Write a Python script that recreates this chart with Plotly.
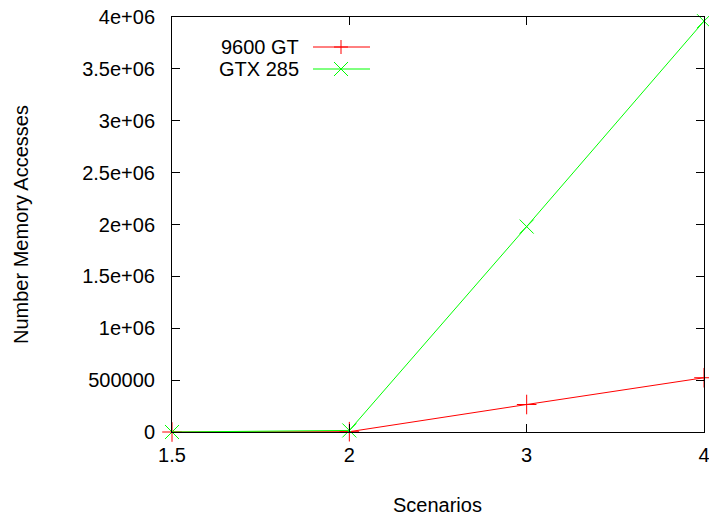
import plotly.graph_objects as go

categories = ["1.5", "2", "3", "4"]
gt9600 = [0, 3000, 265000, 523000]
gtx285 = [0, 15000, 1980000, 3960000]
series_names = ["9600 GT", "GTX 285"]
ytick_vals = [0, 500000, 1000000, 1500000, 2000000, 2500000, 3000000, 3500000, 4000000]
ytick_text = ["0", "500000", "1e+06", "1.5e+06", "2e+06", "2.5e+06", "3e+06", "3.5e+06", "4e+06"]
x_title = "Scenarios"
y_title = "Number Memory Accesses"

RED = "#ff0000"
GREEN = "#00ff00"
FONT = "Liberation Sans, Arial, Helvetica, sans-serif"
FS = 20
FT = 20

fig = go.Figure()
fig.add_trace(go.Scatter(x=categories, y=gt9600, mode="lines+markers", name=series_names[0],
                         line=dict(color=RED, width=1),
                         marker=dict(symbol="cross-thin", size=14, line=dict(color=RED, width=1)),
                         cliponaxis=False, showlegend=False))
fig.add_trace(go.Scatter(x=categories, y=gtx285, mode="lines+markers", name=series_names[1],
                         line=dict(color=GREEN, width=1),
                         marker=dict(symbol="x-thin", size=14, line=dict(color=GREEN, width=1)),
                         cliponaxis=False, showlegend=False))

L, R, T, B = 172, 5, 17, 84
W, H = 709, 516
pw, ph = W - L - R, H - T - B

def px(x):
    return (x - L) / pw

def py(y):
    return (H - B - y) / ph

shapes = []
annotations = []
legend_rows = [(series_names[0], RED, "plus", 47), (series_names[1], GREEN, "x", 69)]
for name, col, sym, yy in legend_rows:
    annotations.append(dict(x=px(301), y=py(yy), xref="paper", yref="paper", text=name,
                            showarrow=False, xanchor="right", yanchor="middle",
                            font=dict(family=FONT, size=FS, color="black")))
    shapes.append(dict(type="line", xref="paper", yref="paper", x0=px(313), x1=px(370),
                       y0=py(yy), y1=py(yy), line=dict(color=col, width=1)))
    cx, cy, s = 341, yy, 7
    if sym == "plus":
        path = f"M{px(cx-s)},{py(cy)} L{px(cx+s)},{py(cy)} M{px(cx)},{py(cy-s)} L{px(cx)},{py(cy+s)}"
    else:
        path = f"M{px(cx-s)},{py(cy-s)} L{px(cx+s)},{py(cy+s)} M{px(cx-s)},{py(cy+s)} L{px(cx+s)},{py(cy-s)}"
    shapes.append(dict(type="path", xref="paper", yref="paper", path=path, line=dict(color=col, width=1)))

annotations.append(dict(x=px(437), y=py(505), xref="paper", yref="paper", text=x_title,
                        showarrow=False, xanchor="center", yanchor="middle",
                        font=dict(family=FONT, size=FT, color="black")))
annotations.append(dict(x=px(21), y=py(225), xref="paper", yref="paper", text=y_title,
                        showarrow=False, xanchor="center", yanchor="middle", textangle=-90,
                        font=dict(family=FONT, size=FT, color="black")))

fig.update_layout(
    width=W, height=H,
    margin=dict(l=L, r=R, t=T, b=B),
    plot_bgcolor="white", paper_bgcolor="white",
    font=dict(family=FONT, size=FS, color="black"),
    shapes=shapes, annotations=annotations,
    xaxis=dict(type="category", range=[0, 3], showline=True, linecolor="black", linewidth=1,
               mirror="ticks", ticks="inside", ticklen=8, tickcolor="black", showgrid=False,
               zeroline=False, automargin=False, ticklabelstandoff=5,
               tickfont=dict(size=FS)),
    yaxis=dict(range=[0, 4000000], tickvals=ytick_vals, ticktext=ytick_text,
               showline=True, linecolor="black", linewidth=1, mirror="ticks", ticks="inside",
               ticklen=8, tickcolor="black", showgrid=False, zeroline=False,
               automargin=False, ticklabelstandoff=12,
               tickfont=dict(size=FS)),
)

fig.write_html("out.html", config={"displayModeBar": False},
               post_script="document.body.style.margin='0';document.body.style.padding='0';document.body.style.overflow='hidden';")
